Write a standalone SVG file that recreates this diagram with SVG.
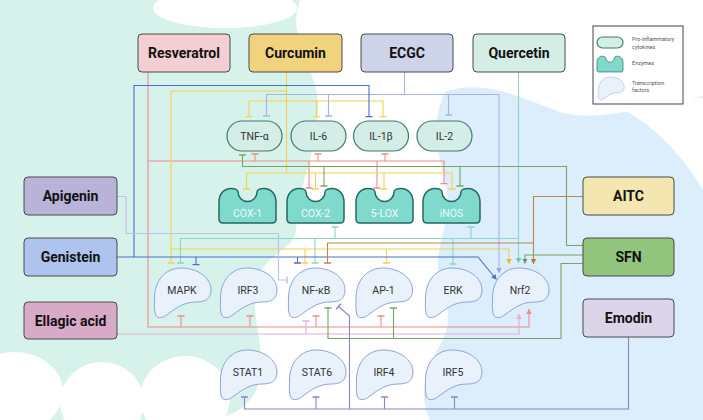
<svg xmlns="http://www.w3.org/2000/svg" width="703" height="420" viewBox="0 0 703 420">
<style>
.box{stroke:#4a4a4a;stroke-width:1}
.bt{font-family:Roboto,"Liberation Sans",sans-serif;font-weight:bold;font-size:14px;fill:#111;text-anchor:middle}
.pill{fill:#d4eee7;stroke:#3e7b6d;stroke-width:1.2}
.enz{fill:#80d9cd;stroke:#22695f;stroke-width:1.5}
.tf{fill:#e9f1fb;stroke:#90a3d9;stroke-width:1}
.nt{font-family:Roboto,"Liberation Sans",sans-serif;font-size:10.5px;fill:#333;text-anchor:middle}
.et{font-family:Roboto,"Liberation Sans",sans-serif;font-size:10.5px;fill:#ecfbf8;text-anchor:middle}
.lt{font-family:Roboto,"Liberation Sans",sans-serif;font-size:5.5px;fill:#555}
#connectors path{fill:none;stroke-width:1.1}
.red{stroke:#ee8b8d}.pink{stroke:#e6aed2}.yel{stroke:#f4d24a}.peri{stroke:#a8b5e2}.teal{stroke:#8ed4c9}
.lav{stroke:#c4bde6}.blue{stroke:#4a6fc6}.brown{stroke:#b58a52}.green{stroke:#73a85c}.purp{stroke:#8a85c8}
</style>
<defs>
<path id="blob" d="M0.5,30 C0.5,12 12,0 27,0 C44,0 57,10 57,22 C57,32 50,34 42,34 C30,34 22,40 14,46 C8,51 2,51 1,45 C0,40 0.5,35 0.5,30 Z"/>
<path id="enzs" d="M0,31 V14 C0,6 5,0.5 12,0.5 C16,0.5 19,2 19,4 A9.5,9.5 0 0 0 38,4 C38,2 41,0.5 45,0.5 C52,0.5 57,6 57,14 V31 Q57,35 53,35 H4 Q0,35 0,31 Z"/>
<marker id="t-red" viewBox="-1 -4 2 8" markerUnits="userSpaceOnUse" markerWidth="2" markerHeight="8" orient="auto"><path d="M0,-3.5V3.5" stroke="#ee8b8d" stroke-width="1.5"/></marker>
<marker id="t-pink" viewBox="-1 -4 2 8" markerUnits="userSpaceOnUse" markerWidth="2" markerHeight="8" orient="auto"><path d="M0,-3.5V3.5" stroke="#e6aed2" stroke-width="1.5"/></marker>
<marker id="t-yel" viewBox="-1 -4 2 8" markerUnits="userSpaceOnUse" markerWidth="2" markerHeight="8" orient="auto"><path d="M0,-3.5V3.5" stroke="#f4d24a" stroke-width="1.5"/></marker>
<marker id="t-peri" viewBox="-1 -4 2 8" markerUnits="userSpaceOnUse" markerWidth="2" markerHeight="8" orient="auto"><path d="M0,-3.5V3.5" stroke="#a8b5e2" stroke-width="1.5"/></marker>
<marker id="t-teal" viewBox="-1 -4 2 8" markerUnits="userSpaceOnUse" markerWidth="2" markerHeight="8" orient="auto"><path d="M0,-3.5V3.5" stroke="#8ed4c9" stroke-width="1.5"/></marker>
<marker id="t-lav" viewBox="-1 -4 2 8" markerUnits="userSpaceOnUse" markerWidth="2" markerHeight="8" orient="auto"><path d="M0,-3.5V3.5" stroke="#c4bde6" stroke-width="1.5"/></marker>
<marker id="t-blue" viewBox="-1 -4 2 8" markerUnits="userSpaceOnUse" markerWidth="2" markerHeight="8" orient="auto"><path d="M0,-3.5V3.5" stroke="#4a6fc6" stroke-width="1.5"/></marker>
<marker id="t-brown" viewBox="-1 -4 2 8" markerUnits="userSpaceOnUse" markerWidth="2" markerHeight="8" orient="auto"><path d="M0,-3.5V3.5" stroke="#b58a52" stroke-width="1.5"/></marker>
<marker id="t-green" viewBox="-1 -4 2 8" markerUnits="userSpaceOnUse" markerWidth="2" markerHeight="8" orient="auto"><path d="M0,-3.5V3.5" stroke="#73a85c" stroke-width="1.5"/></marker>
<marker id="t-purp" viewBox="-1 -4 2 8" markerUnits="userSpaceOnUse" markerWidth="2" markerHeight="8" orient="auto"><path d="M0,-3.5V3.5" stroke="#8a85c8" stroke-width="1.5"/></marker>
<marker id="a-red" viewBox="-5 -3 5 6" markerUnits="userSpaceOnUse" markerWidth="5" markerHeight="6" orient="auto"><path d="M-5,-2.8L0,0L-5,2.8Z" fill="#ee8b8d"/></marker>
<marker id="a-pink" viewBox="-5 -3 5 6" markerUnits="userSpaceOnUse" markerWidth="5" markerHeight="6" orient="auto"><path d="M-5,-2.8L0,0L-5,2.8Z" fill="#e6aed2"/></marker>
<marker id="a-yel" viewBox="-5 -3 5 6" markerUnits="userSpaceOnUse" markerWidth="5" markerHeight="6" orient="auto"><path d="M-5,-2.8L0,0L-5,2.8Z" fill="#f0b92a"/></marker>
<marker id="a-peri" viewBox="-5 -3 5 6" markerUnits="userSpaceOnUse" markerWidth="5" markerHeight="6" orient="auto"><path d="M-5,-2.8L0,0L-5,2.8Z" fill="#98a7dc"/></marker>
<marker id="a-teal" viewBox="-5 -3 5 6" markerUnits="userSpaceOnUse" markerWidth="5" markerHeight="6" orient="auto"><path d="M-5,-2.8L0,0L-5,2.8Z" fill="#6fc7b9"/></marker>
<marker id="a-blue" viewBox="-5 -3 5 6" markerUnits="userSpaceOnUse" markerWidth="5" markerHeight="6" orient="auto"><path d="M-5,-2.8L0,0L-5,2.8Z" fill="#4a6fc6"/></marker>
<marker id="a-brown" viewBox="-5 -3 5 6" markerUnits="userSpaceOnUse" markerWidth="5" markerHeight="6" orient="auto"><path d="M-5,-2.8L0,0L-5,2.8Z" fill="#b07d3c"/></marker>
<marker id="a-green" viewBox="-5 -3 5 6" markerUnits="userSpaceOnUse" markerWidth="5" markerHeight="6" orient="auto"><path d="M-5,-2.8L0,0L-5,2.8Z" fill="#5e9a45"/></marker>
</defs>

<g id="background">
<rect width="703" height="420" fill="#ffffff"/>
<path fill="#d7f2ea" d="M0,0 H300 C285,40 320,70 318,110 C316,160 296,190 296,228 C296,252 262,252 256,285 C250,320 268,350 258,385 C250,410 225,420 200,420 H0 Z"/>
<ellipse cx="225" cy="8" rx="72" ry="20" fill="#ffffff"/>
<ellipse cx="15" cy="392" rx="48" ry="40" fill="#ffffff"/>
<ellipse cx="102" cy="402" rx="42" ry="40" fill="#ffffff"/>
<ellipse cx="185" cy="398" rx="45" ry="42" fill="#ffffff"/>
<path fill="#dcedfb" d="M445,92 C485,78 520,98 560,112 C600,124 650,104 703,96 V420 H430 C418,395 425,370 440,345 C455,320 445,300 440,280 C432,250 450,225 448,200 C446,170 425,135 445,92 Z"/>
<path fill="#ffffff" d="M608,104 C640,112 680,150 703,190 V98 C670,96 630,100 608,104 Z"/>
</g>

<g id="connectors">
<path class="red" d="M148,72 V327 H529 V309" marker-end="url(#a-red)"/>
<path class="red" d="M148,161 H444 V183.5" marker-end="url(#t-red)"/>
<path class="red" d="M255,161 V154" marker-end="url(#t-red)"/>
<path class="red" d="M318,161 V154" marker-end="url(#t-red)"/>
<path class="red" d="M385,161 V154" marker-end="url(#t-red)"/>
<path class="red" d="M309,161 V188" marker-end="url(#t-red)"/>
<path class="red" d="M377,161 V188" marker-end="url(#t-red)"/>
<path class="red" d="M181,327 V316" marker-end="url(#t-red)"/>
<path class="red" d="M250,327 V316" marker-end="url(#t-red)"/>
<path class="red" d="M316,327 V316" marker-end="url(#t-red)"/>
<path class="red" d="M381,327 V316" marker-end="url(#t-red)"/>
<path class="pink" d="M117,334 H519 V314" marker-end="url(#a-pink)"/>
<path class="pink" d="M306,334 V321" marker-end="url(#t-pink)"/>
<path class="yel" d="M286.5,72 V173"/>
<path class="yel" d="M246.5,173 H452 V189" marker-end="url(#t-yel)"/>
<path class="yel" d="M246.5,173 V189" marker-end="url(#t-yel)"/>
<path class="yel" d="M315.5,173 V189" marker-end="url(#t-yel)"/>
<path class="yel" d="M384,173 V189" marker-end="url(#t-yel)"/>
<path class="yel" d="M286.5,91 H171 V263" marker-end="url(#t-yel)"/>
<path class="yel" d="M171,249 H509 V264" marker-end="url(#a-yel)"/>
<path class="yel" d="M305,249 V263" marker-end="url(#t-yel)"/>
<path class="yel" d="M386.5,249 V263" marker-end="url(#t-yel)"/>
<path class="yel" d="M249,101 H383 V116.5" marker-end="url(#t-yel)"/>
<path class="yel" d="M249,101 V116.5" marker-end="url(#t-yel)"/>
<path class="yel" d="M316.5,101 V116.5" marker-end="url(#t-yel)"/>
<path class="peri" d="M404.5,72 V94.5"/>
<path class="peri" d="M266.5,116 V94.5 H499 V273" marker-end="url(#a-peri)"/>
<path class="peri" d="M266.5,94.5 V116" marker-end="url(#t-peri)"/>
<path class="peri" d="M328.5,94.5 V116" marker-end="url(#t-peri)"/>
<path class="peri" d="M448.5,94.5 V115" marker-end="url(#t-peri)"/>
<path class="teal" d="M518.5,72 V263" marker-end="url(#a-teal)"/>
<path class="teal" d="M518.5,238.5 H180.5 V263" marker-end="url(#t-teal)"/>
<path class="teal" d="M315,238.5 V263" marker-end="url(#t-teal)"/>
<path class="teal" d="M453,238.5 V264" marker-end="url(#t-teal)"/>
<path class="teal" d="M335,238.5 V227" marker-end="url(#t-teal)"/>
<path class="teal" d="M471,238.5 V227" marker-end="url(#t-teal)"/>
<path class="blue" d="M117,257 H478 L496.5,279.5" marker-end="url(#a-blue)"/>
<path class="blue" d="M134,257 V85.5 H369 V116.5" marker-end="url(#t-blue)"/>
<path class="blue" d="M196,257 V264.5" marker-end="url(#t-blue)"/>
<path class="blue" d="M297.5,257 V263" marker-end="url(#t-blue)"/>
<path class="lav" d="M117,196.5 H126 V233.5 H278.5 V280 H287" marker-end="url(#t-lav)"/>
<path class="brown" d="M583,196.5 H533.5 V264" marker-end="url(#a-brown)"/>
<path class="brown" d="M533.5,243 H327.5 V263" marker-end="url(#t-brown)"/>
<path class="green" d="M583,245.5 H566.5 V166.5 H242.5 V155" marker-end="url(#t-green)"/>
<path class="green" d="M324,166.5 V186" marker-end="url(#t-green)"/>
<path class="green" d="M460,166.5 V186" marker-end="url(#t-green)"/>
<path class="green" d="M583,255 H525 V263.5" marker-end="url(#a-green)"/>
<path class="green" d="M583,263.5 H561 V338.5 H328 V308" marker-end="url(#t-green)"/>
<path class="green" d="M393.5,338.5 V308" marker-end="url(#t-green)"/>
<path class="purp" d="M628.5,337 V409 H244.5 V397" marker-end="url(#t-purp)"/>
<path class="purp" d="M316,409 V397" marker-end="url(#t-purp)"/>
<path class="purp" d="M384.5,409 V397" marker-end="url(#t-purp)"/>
<path class="purp" d="M454.5,409 V397" marker-end="url(#t-purp)"/>
<path class="purp" d="M349.5,409 V316 L338.5,306.5" marker-end="url(#t-purp)"/>
</g>

<g id="resveratrol"><rect class="box" x="138" y="34" width="92" height="38" rx="4" fill="#f3cfd3"/><text class="bt" x="184" y="58">Resveratrol</text></g>
<g id="curcumin"><rect class="box" x="249" y="34" width="93" height="38" rx="4" fill="#f0d27f"/><text class="bt" x="295.5" y="58">Curcumin</text></g>
<g id="ecgc"><rect class="box" x="361" y="34" width="92" height="38" rx="4" fill="#cdd3e8"/><text class="bt" x="407" y="58">ECGC</text></g>
<g id="quercetin"><rect class="box" x="473" y="34" width="92" height="38" rx="4" fill="#d4ede6"/><text class="bt" x="519" y="58">Quercetin</text></g>
<g id="apigenin"><rect class="box" x="24" y="177" width="93" height="38" rx="4" fill="#b9b3da"/><text class="bt" x="70.5" y="201">Apigenin</text></g>
<g id="genistein"><rect class="box" x="24" y="238" width="93" height="38" rx="4" fill="#aec3ee"/><text class="bt" x="70.5" y="262">Genistein</text></g>
<g id="ellagic-acid"><rect class="box" x="24" y="302" width="93" height="37" rx="4" fill="#d8aac8"/><text class="bt" x="70.5" y="325.5">Ellagic acid</text></g>
<g id="aitc"><rect class="box" x="583" y="177" width="91" height="38" rx="4" fill="#f3e6b0"/><text class="bt" x="628.5" y="201">AITC</text></g>
<g id="sfn"><rect class="box" x="583" y="238" width="91" height="38" rx="4" fill="#93c47d"/><text class="bt" x="628.5" y="262">SFN</text></g>
<g id="emodin"><rect class="box" x="583" y="299" width="91" height="38" rx="4" fill="#dcd5ea"/><text class="bt" x="628.5" y="323">Emodin</text></g>

<g id="tnf-a"><rect class="pill" x="227" y="121" width="55" height="30" rx="15"/><text class="nt" x="254.5" y="140">TNF-α</text></g>
<g id="il-6"><rect class="pill" x="291" y="121" width="55" height="30" rx="15"/><text class="nt" x="318.5" y="140">IL-6</text></g>
<g id="il-1b"><rect class="pill" x="353.5" y="121" width="55" height="30" rx="15"/><text class="nt" x="381" y="140">IL-1β</text></g>
<g id="il-2"><rect class="pill" x="417" y="121" width="55" height="30" rx="15"/><text class="nt" x="444.5" y="140">IL-2</text></g>

<g id="cox-1"><use href="#enzs" class="enz" x="219" y="188"/><text class="et" x="247.5" y="216.5">COX-1</text></g>
<g id="cox-2"><use href="#enzs" class="enz" x="287" y="188"/><text class="et" x="315.5" y="216.5">COX-2</text></g>
<g id="5-lox"><use href="#enzs" class="enz" x="356" y="188"/><text class="et" x="384.5" y="216.5">5-LOX</text></g>
<g id="inos"><use href="#enzs" class="enz" x="423" y="188"/><text class="et" x="451.5" y="216.5">iNOS</text></g>

<g id="mapk"><use href="#blob" class="tf" x="154" y="268"/><text class="nt" x="182" y="294">MAPK</text></g>
<g id="irf3"><use href="#blob" class="tf" x="220" y="268"/><text class="nt" x="248" y="294">IRF3</text></g>
<g id="nf-kb"><use href="#blob" class="tf" x="288" y="268"/><text class="nt" x="316" y="294">NF-κB</text></g>
<g id="ap-1"><use href="#blob" class="tf" x="355.5" y="268"/><text class="nt" x="383.5" y="294">AP-1</text></g>
<g id="erk"><use href="#blob" class="tf" x="425" y="268"/><text class="nt" x="453" y="294">ERK</text></g>
<g id="nrf2"><use href="#blob" class="tf" x="492" y="268"/><text class="nt" x="520" y="294">Nrf2</text></g>
<g id="stat1"><use href="#blob" class="tf" x="220" y="350"/><text class="nt" x="248" y="376">STAT1</text></g>
<g id="stat6"><use href="#blob" class="tf" x="289" y="350"/><text class="nt" x="317" y="376">STAT6</text></g>
<g id="irf4"><use href="#blob" class="tf" x="356" y="350"/><text class="nt" x="384" y="376">IRF4</text></g>
<g id="irf5"><use href="#blob" class="tf" x="425" y="350"/><text class="nt" x="453" y="376">IRF5</text></g>

<g id="legend">
<rect x="593" y="26" width="90" height="78" fill="#ffffff" stroke="#444" stroke-width="1"/>
<rect class="pill" x="597" y="37" width="26" height="11" rx="5.5"/>
<use href="#enzs" class="enz" transform="translate(597,56) scale(0.456)"/>
<use href="#blob" class="tf" transform="translate(598,77) scale(0.46)"/>
<text class="lt" x="632" y="41">Pro-inflammatory</text>
<text class="lt" x="632" y="48.5">cytokines</text>
<text class="lt" x="632" y="65">Enzymes</text>
<text class="lt" x="632" y="84.5">Transcription</text>
<text class="lt" x="632" y="92">factors</text>
</g>
</svg>
